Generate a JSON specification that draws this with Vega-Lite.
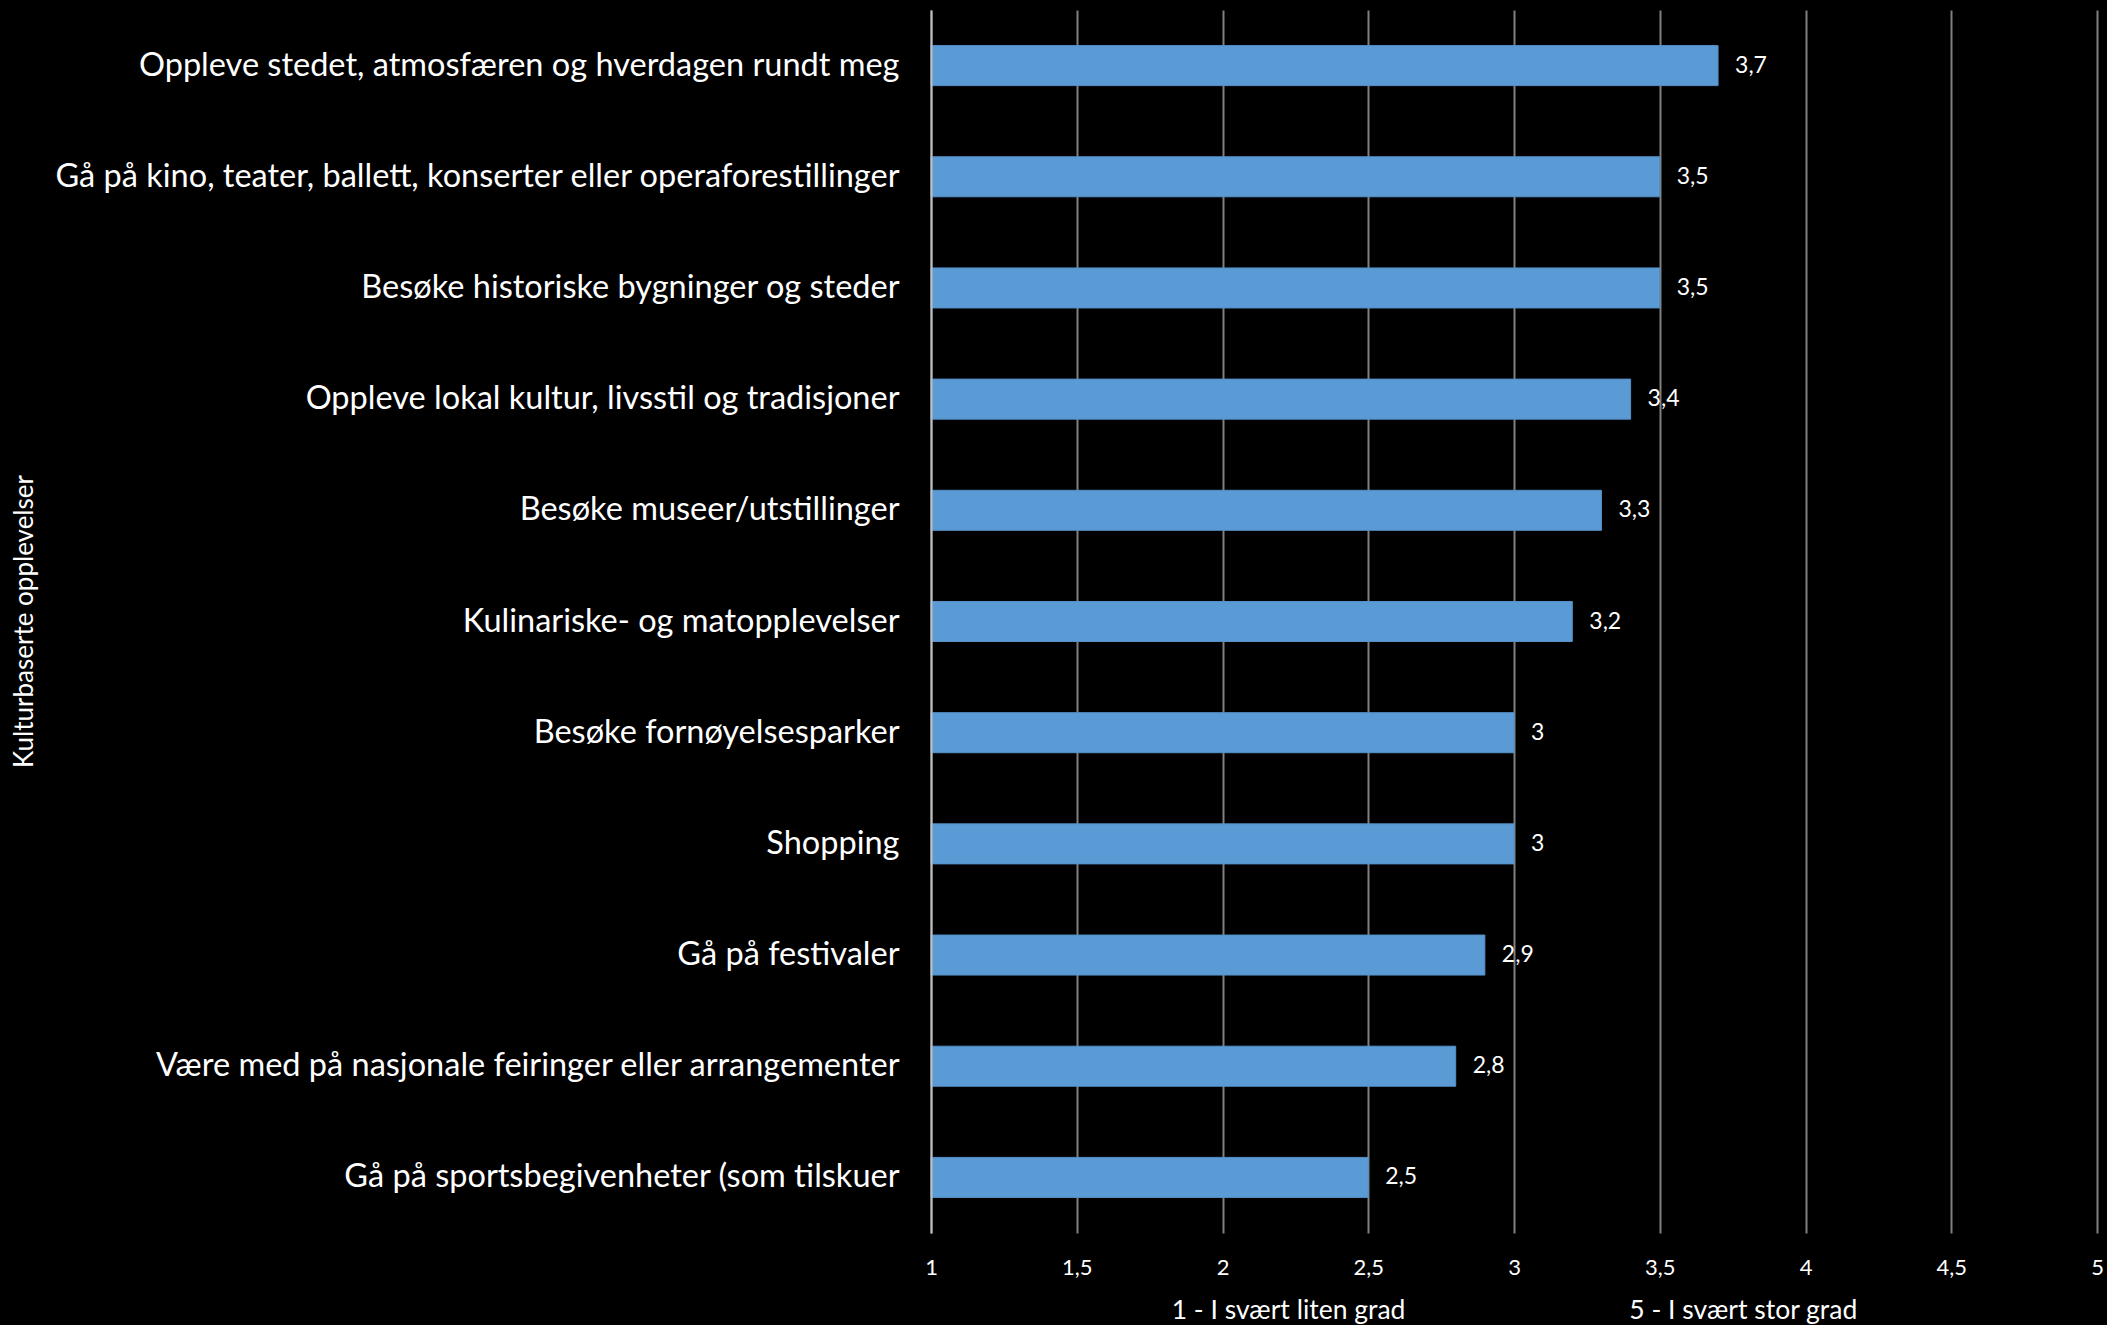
{
  "$schema": "https://vega.github.io/schema/vega-lite/v6.json",
  "width": 1166,
  "height": 1223,
  "autosize": {"type": "none"},
  "padding": {"left": 931, "top": 10, "right": 10, "bottom": 92},
  "background": "#000000",
  "config": {
    "view": {"stroke": null},
    "locale": {"number": {"decimal": ",", "thousands": " ", "grouping": [3], "currency": ["", " kr"]}},
    "font": "Lato"
  },
  "data": {
    "values": [
      {"kategori": "Oppleve stedet, atmosfæren og hverdagen rundt meg", "verdi": 3.7},
      {"kategori": "Gå på kino, teater, ballett, konserter eller operaforestillinger", "verdi": 3.5},
      {"kategori": "Besøke historiske bygninger og steder", "verdi": 3.5},
      {"kategori": "Oppleve lokal kultur, livsstil og tradisjoner", "verdi": 3.4},
      {"kategori": "Besøke museer/utstillinger", "verdi": 3.3},
      {"kategori": "Kulinariske- og matopplevelser", "verdi": 3.2},
      {"kategori": "Besøke fornøyelsesparker", "verdi": 3.0},
      {"kategori": "Shopping", "verdi": 3.0},
      {"kategori": "Gå på festivaler", "verdi": 2.9},
      {"kategori": "Være med på nasjonale feiringer eller arrangementer", "verdi": 2.8},
      {"kategori": "Gå på sportsbegivenheter (som tilskuer", "verdi": 2.5}
    ]
  },
  "encoding": {
    "y": {
      "field": "kategori",
      "type": "nominal",
      "sort": null,
      "scale": {"paddingInner": 0.64, "paddingOuter": 0.32},
      "axis": {
        "title": "Kulturbaserte opplevelser",
        "titleColor": "#ffffff",
        "titleFont": "Lato",
        "titleFontSize": 26,
        "titleFontWeight": "normal",
        "titleAngle": -90,
        "titleX": -907,
        "titleY": 611,
        "titleAlign": "center",
        "titleBaseline": "middle",
        "labelColor": "#ffffff",
        "labelFont": "Lato",
        "labelFontSize": 32.5,
        "labelPadding": 32,
        "labelLimit": 1000,
        "ticks": false,
        "domain": true,
        "domainColor": "#bfbfbf",
        "domainWidth": 2,
        "grid": false,
        "zindex": 1
      }
    },
    "x": {
      "field": "verdi",
      "type": "quantitative",
      "scale": {"domain": [1, 5], "nice": false, "zero": false},
      "axis": {
        "values": [1, 1.5, 2, 2.5, 3, 3.5, 4, 4.5, 5],
        "format": "~g",
        "labelFlush": false,
        "title": "1 - I svært liten grad\u00a0\u00a0\u00a0\u00a0\u00a0\u00a0\u00a0\u00a0\u00a0\u00a0\u00a0\u00a0\u00a0\u00a0\u00a0\u00a0\u00a0\u00a0\u00a0\u00a0\u00a0\u00a0\u00a0\u00a0\u00a0\u00a0\u00a0\u00a0\u00a0\u00a0\u00a0\u00a0\u00a05 - I svært stor grad",
        "titleColor": "#ffffff",
        "titleFont": "Lato",
        "titleFontSize": 26.5,
        "titleFontWeight": "normal",
        "titlePadding": 19,
        "labelColor": "#ffffff",
        "labelFont": "Lato",
        "labelFontSize": 22,
        "labelPadding": 24,
        "ticks": false,
        "domain": false,
        "grid": true,
        "gridColor": "#808080",
        "gridWidth": 2
      }
    }
  },
  "layer": [
    {
      "mark": {"type": "bar", "color": "#5b9bd5", "stroke": "#5590c8", "strokeWidth": 1},
      "encoding": {"x2": {"datum": 1}}
    },
    {
      "mark": {"type": "text", "align": "left", "baseline": "middle", "dx": 17, "color": "#ffffff", "font": "Lato", "fontSize": 23},
      "encoding": {
        "text": {"field": "verdi", "type": "quantitative", "format": "~g"}
      }
    }
  ]
}
